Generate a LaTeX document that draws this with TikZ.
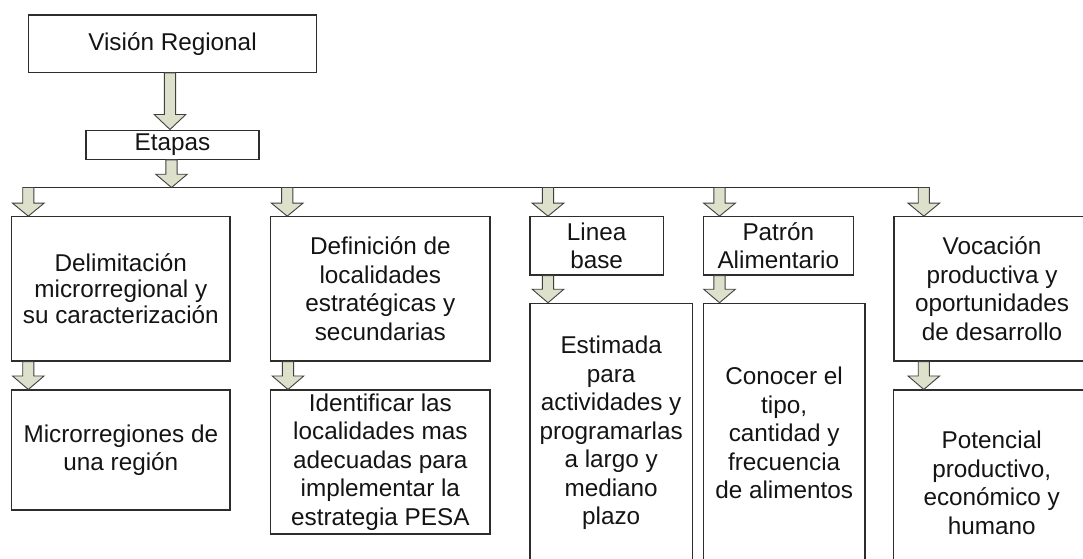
\documentclass[tikz,border=0pt]{standalone}
\usepackage{fontspec}
\setmainfont{Liberation Sans}
\usetikzlibrary{calc}
\definecolor{arrowfill}{RGB}{221,225,203}
\definecolor{arrowline}{RGB}{64,64,64}
\definecolor{boxline}{RGB}{45,45,45}
\definecolor{txt}{RGB}{20,20,20}
\tikzset{
  box/.style={draw=boxline, line width=1.1pt, fill=white, rectangle, inner sep=0pt,
    align=center, text=txt, font=\fontsize{24.3}{28.5}\selectfont},
  barrow/.style={draw=arrowline, line width=0.9pt, fill=arrowfill, line join=miter},
  busline/.style={draw=boxline, line width=1.1pt}
}
\newcommand{\barr}[4]{%
  \draw[barrow] let \p1=#2, \p2=#3 in
    ({#1pt-5.6pt},\y1) -- ({#1pt-5.6pt},{\y2+#4pt}) -- ({#1pt-15.8pt},{\y2+#4pt})
    -- (#1pt,\y2) -- ({#1pt+15.8pt},{\y2+#4pt}) -- ({#1pt+5.6pt},{\y2+#4pt})
    -- ({#1pt+5.6pt},\y1) -- cycle;}
\begin{document}
\begin{tikzpicture}[x=1pt,y=-1pt]
\useasboundingbox (0,0) rectangle (1083,558);
\clip (0,0) rectangle (1083,558);
\fill[white] (0,0) rectangle (1083,558);

% boxes
\node[box, minimum width=288.4, minimum height=57.3] (vision) at (172.5,43.65) {Visión Regional};
\node[box, minimum width=173, minimum height=29.3] (etapas) at (172.5,144.7) {Etapas};

\node[box, minimum width=218.3, minimum height=144.3, font=\fontsize{24.3}{25.8}\selectfont] (delim) at (120.85,288.85) {Delimitación\\microrregional y\\su caracterización};
\node[box, minimum width=219.3, minimum height=144.3] (defin) at (380.35,288.85) {Definición de\\localidades\\estratégicas y\\secundarias};
\node[box, minimum width=133.3, minimum height=58.3] (linea) at (596.65,245.85) {Linea\\base};
\node[box, minimum width=150, minimum height=58.3] (patron) at (778.3,245.85) {Patrón\\Alimentario};
\node[box, minimum width=196, minimum height=144.3] (vocac) at (992,288.85) {Vocación\\productiva y\\oportunidades\\de desarrollo};

\node[box, minimum width=218.3, minimum height=120, font=\fontsize{24.3}{27.6}\selectfont] (micro) at (120.85,450) {Microrregiones de\\una región};
\node[box, minimum width=219.3, minimum height=144] (ident) at (380.35,462) {Identificar las\\localidades mas\\adecuadas para\\implementar la\\estrategia PESA};
\node[box, minimum width=162.3, minimum height=259.7] (estim) at (611.15,433.15) {Estimada\\para\\actividades y\\programarlas\\a largo y\\mediano\\plazo};
\node[box, minimum width=161.7, minimum height=259.7] (conoc) at (784.15,433.15) {Conocer el\\tipo,\\cantidad y\\frecuencia\\de alimentos};
\node[box, minimum width=196.7, minimum height=186] (potenc) at (991.7,483) {Potencial\\productivo,\\económico y\\humano};

% bus line
\coordinate (busL) at (22.7,187.5);
\coordinate (busR) at (929.3,187.5);
\draw[busline] (busL) -- (busR);

% arrows
\barr{170}{(vision.south)}{(etapas.north)}{15}
\barr{171.5}{(etapas.south)}{(busL)}{13.3}

\barr{28.3}{(busL)}{(delim.north)}{13}
\barr{287.2}{(busL)}{(defin.north)}{13}
\barr{548}{(busL)}{(linea.north)}{13}
\barr{719.5}{(busL)}{(patron.north)}{13}
\barr{923.8}{(busL)}{(vocac.north)}{13}

\barr{28.3}{(delim.south)}{(micro.north)}{13.5}
\barr{288}{(defin.south)}{(ident.north)}{13.5}
\barr{548}{(linea.south)}{(estim.north)}{13.5}
\barr{719.5}{(patron.south)}{(conoc.north)}{13.5}
\barr{923.8}{(vocac.south)}{(potenc.north)}{13.5}
\end{tikzpicture}
\end{document}
